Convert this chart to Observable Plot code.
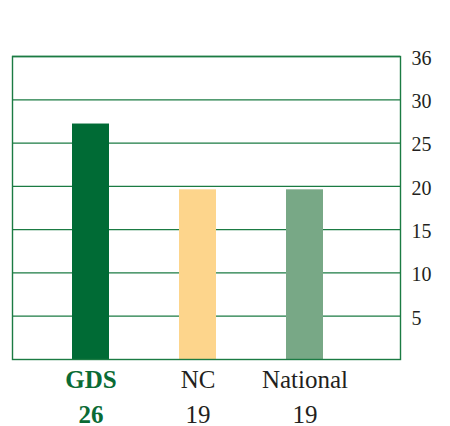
<!DOCTYPE html>
<html>
<head>
<meta charset="utf-8">
<script src="https://cdn.jsdelivr.net/npm/d3@7"></script>
<script src="https://cdn.jsdelivr.net/npm/@observablehq/plot@0.6"></script>
<style>
  html, body { margin: 0; padding: 0; background: #fff; }
  #chart svg { display: block; }
  #chart svg text, #chart svg tspan { font-family: "Liberation Serif", "DejaVu Serif", "Times New Roman", serif !important; }
</style>
</head>
<body>
<div id="chart"></div>
<script>
// Data
const categories = ["GDS", "NC", "National"];
const barValues = [27.2, 19.6, 19.6];
const valueLabels = ["26", "19", "19"];
const barColors = ["#006b35", "#fdd58c", "#78a886"];
const tickValues = [5, 10, 15, 20, 25, 30, 35];
const tickLabels = ["5", "10", "15", "20", "25", "30", "36"];

const rows = categories.map((c, i) => ({cat: c, value: barValues[i], label: valueLabels[i], color: barColors[i]}));
const labelOf = new Map(tickValues.map((v, i) => [v, tickLabels[i]]));
const highlight = rows.filter(d => d.cat === "GDS");
const others = rows.filter(d => d.cat !== "GDS");

const green = "#1b7b43";
const textDark = "#231f20";
const textGreen = "#0a6b35";

const catLabel = (data, fill, weight) => Plot.text(data, {x: "cat", text: "cat", frameAnchor: "bottom", lineAnchor: "bottom", dy: 28, fontSize: 25, fill, fontWeight: weight});
const valLabel = (data, fill, weight) => Plot.text(data, {x: "cat", text: "label", frameAnchor: "bottom", lineAnchor: "bottom", dy: 63, fontSize: 25, fill, fontWeight: weight});

const chart = Plot.plot({
  width: 450,
  height: 426,
  marginLeft: 12,
  marginRight: 50,
  marginTop: 56,
  marginBottom: 67,
  style: {background: "#fff"},
  x: {type: "band", domain: categories, paddingInner: 0.656, paddingOuter: 0.633, align: 0.44, axis: null},
  y: {domain: [0, 35], axis: null},
  marks: [
    Plot.gridY(tickValues, {stroke: green, strokeOpacity: 1, strokeWidth: 1.3}),
    Plot.barY(rows, {x: "cat", y: "value", fill: "color"}),
    Plot.frame({stroke: green, strokeWidth: 1.4}),
    Plot.axisY({anchor: "right", label: null, ticks: tickValues, tickFormat: d => labelOf.get(d), tickSize: 0, tickPadding: 11, fontSize: 20, fill: textDark, dy: 2}),
    catLabel(highlight, textGreen, "bold"),
    catLabel(others, textDark, "normal"),
    valLabel(highlight, textGreen, "bold"),
    valLabel(others, textDark, "normal")
  ]
});
document.getElementById("chart").appendChild(chart);
</script>
</body>
</html>
